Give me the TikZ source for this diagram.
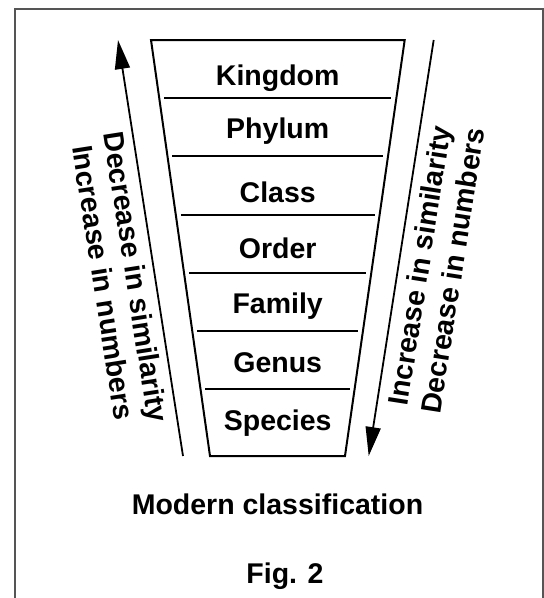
\documentclass[tikz,border=0pt]{standalone}
\usepackage{fontspec}
\setmainfont{Liberation Sans}
\usetikzlibrary{calc,arrows.meta}
\definecolor{framegray}{HTML}{555555}
\tikzset{
    rank/.style={anchor=base, font=\bfseries\fontsize{28.5}{33}\selectfont},
    sidetext/.style={anchor=base, inner sep=0pt, font=\bfseries\fontsize{28.5}{33}\selectfont},
    arr/.style={line width=1.8pt, -{Triangle[length=29pt,width=15pt]}}
}
\begin{document}
\begin{tikzpicture}[x=1pt,y=-1pt]
    \useasboundingbox (0,0) rectangle (544,598);
    \draw[framegray, line width=2pt] (14.5,598) -- (14.5,9) -- (542.5,9) -- (542.5,598);

    \coordinate (tl) at (151,40);
    \coordinate (tr) at (404.7,40);
    \coordinate (bl) at (210,456);
    \coordinate (br) at (345,456);
    \draw[line width=2pt] (tl) -- (tr) -- (br) -- (bl) -- cycle;

    \foreach \y [count=\i] in {98,156,215,273,331,389} {
        \pgfmathsetmacro\t{(\y-40)/416}
        \coordinate (l\i) at ($(tl)!\t!(bl)$);
        \coordinate (r\i) at ($(tr)!\t!(br)$);
        \draw[line width=2pt, shorten <=5pt, shorten >=5pt] (l\i) -- (r\i);
    }

    \foreach \name/\yb in {Kingdom/85, Phylum/138, Class/202, Order/258, Family/313, Genus/372, Species/430} {
        \node[rank] (\name) at (277.7,\yb) {\name};
    }

    % left side
    \coordinate (la0) at (183,456);
    \coordinate (la1) at (118,40);
    \draw[arr] (la0) -- (la1);
    \node[sidetext, rotate=-81.1] (decsim) at (126,278.5) {Decrease in similarity};
    \node[sidetext, rotate=-81.1] (incnum) at (93.5,284) {Increase in numbers};

    % right side
    \coordinate (ra0) at (433.7,40);
    \coordinate (ra1) at (368.7,456);
    \draw[arr] (ra0) -- (ra1);
    \node[sidetext, rotate=81.1] (incsim) at (429.5,267) {Increase in similarity};
    \node[sidetext, rotate=81.1] (decnum) at (462.5,272) {Decrease in numbers};

    \node[rank] (title) at (277.5,514) {Modern classification};
    \node[rank] (fig) at (285,583) {Fig. 2};
\end{tikzpicture}
\end{document}
